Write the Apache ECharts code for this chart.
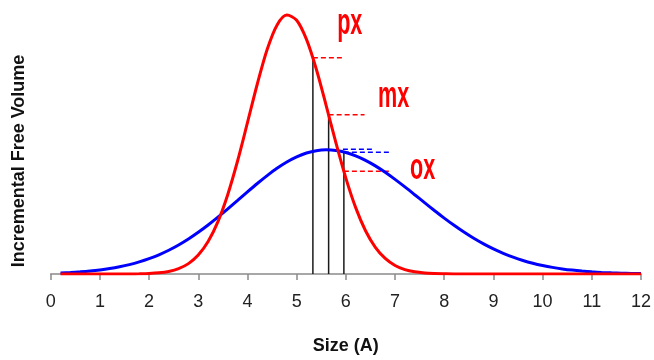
<!DOCTYPE html>
<html>
<head>
<meta charset="utf-8">
<script src="https://cdn.jsdelivr.net/npm/echarts@6/dist/echarts.min.js"></script>
<style>
  html, body { margin: 0; padding: 0; background: #ffffff; }
  #chart { width: 654px; height: 360px; }
</style>
</head>
<body>
<div id="chart"></div>
<script>
// Pore size axis (Å) and the two free-volume distributions sampled along it
const sizes = [
  0.2, 0.4, 0.6, 0.8, 1.0, 1.2, 1.4, 1.6, 1.8, 2.0,
  2.2, 2.4, 2.6, 2.8, 3.0, 3.2, 3.4, 3.6, 3.8, 4.0,
  4.2, 4.4, 4.6, 4.8, 5.0, 5.2, 5.4, 5.6, 5.8, 6.0,
  6.2, 6.4, 6.6, 6.8, 7.0, 7.2, 7.4, 7.6, 7.8, 8.0,
  8.2, 8.4, 8.6, 8.8, 9.0, 9.2, 9.4, 9.6, 9.8, 10.0,
  10.2, 10.4, 10.6, 10.8, 11.0, 11.2, 11.4, 11.6, 11.8, 12.0
];
const narrowVolume = [
  0, 0, 0, 0, 0, 0, 0, 0.0002, 0.0008, 0.0019,
  0.0045, 0.0099, 0.0206, 0.040, 0.073, 0.125, 0.202, 0.307, 0.437, 0.584,
  0.733, 0.866, 0.960, 0.999, 0.979, 0.905, 0.790, 0.650, 0.505, 0.370,
  0.256, 0.167, 0.103, 0.060, 0.033, 0.017, 0.0083, 0.0038, 0.0017, 0.0007,
  0, 0, 0, 0, 0, 0, 0, 0, 0, 0,
  0, 0, 0, 0, 0, 0, 0, 0, 0, 0
];
const broadVolume = [
  0.0043, 0.0061, 0.0085, 0.0116, 0.0157, 0.0210, 0.0278, 0.0362, 0.0466, 0.0591,
  0.0741, 0.0917, 0.1120, 0.1351, 0.1609, 0.1890, 0.2193, 0.2511, 0.2839, 0.3169,
  0.3491, 0.3797, 0.4076, 0.4320, 0.4519, 0.4668, 0.4759, 0.4790, 0.4764, 0.4685,
  0.4557, 0.4384, 0.4171, 0.3924, 0.3651, 0.3360, 0.3058, 0.2752, 0.2450, 0.2157,
  0.1878, 0.1617, 0.1377, 0.1160, 0.0966, 0.0796, 0.0648, 0.0522, 0.0416, 0.0328,
  0.0255, 0.0197, 0.0150, 0.0113, 0.0084, 0.0062, 0.0045, 0.0033, 0.0023, 0.0016
];
const xTickLabels = ['0','1','2','3','4','5','6','7','8','9','10','11','12'];

// Marked sizes: drop lines, red read-off levels and the px / mx / ox labels
const markerNames = ['px', 'mx', 'ox'];
const markerSize = [5.33, 5.65, 5.96];
const markerLevel = [0.834, 0.614, 0.396];
const markerLineTop = [0.834, 0.614, 0.470];
const markerLevelEnd = [5.94, 6.38, 6.89];
const markerLabelSize = [6.08, 6.97, 7.56];
const markerLabelLevel = [0.966, 0.681, 0.403];
// Blue read-off levels near the broad peak
const broadLevel = [0.470, 0.481];
const broadLevelStart = [5.96, 5.94];
const broadLevelEnd = [6.89, 6.59];

const FONT = 'Liberation Sans, Arial, sans-serif';
const RED = '#ff0000';
const BLUE = '#0000ff';

const chart = echarts.init(document.getElementById('chart'), null, { renderer: 'canvas' });

const pairs = (xs, ys) => xs.map((x, i) => [x, ys[i]]);

const series = [];

// Drop lines from the axis up to each marked level
markerSize.forEach((x, i) => {
  series.push({
    type: 'line', silent: true, symbol: 'none', z: 1,
    data: [[x, 0], [x, markerLineTop[i]]],
    lineStyle: { color: '#1a1a1a', width: 1.5 }
  });
});
// Red dashed read-off levels
markerSize.forEach((x, i) => {
  series.push({
    type: 'line', silent: true, symbol: 'none', z: 1,
    data: [[x, markerLevel[i]], [markerLevelEnd[i], markerLevel[i]]],
    lineStyle: { color: RED, width: 1.5, type: [5, 3] }
  });
});
// Blue dashed read-off levels
broadLevel.forEach((y, i) => {
  series.push({
    type: 'line', silent: true, symbol: 'none', z: 1,
    data: [[broadLevelStart[i], y], [broadLevelEnd[i], y]],
    lineStyle: { color: BLUE, width: 1.5, type: [5, 3] }
  });
});

series.push({
  name: 'broad', type: 'line', symbol: 'none', smooth: 0.3, z: 3,
  data: pairs(sizes, broadVolume),
  lineStyle: { color: BLUE, width: 3 }
});
series.push({
  name: 'narrow', type: 'line', symbol: 'none', smooth: 0.3, z: 4,
  data: pairs(sizes, narrowVolume),
  lineStyle: { color: RED, width: 3 }
});

chart.setOption({
  animation: false,
  backgroundColor: '#ffffff',
  grid: { left: 50.7, right: 12.3, top: 1.85, bottom: 82 },
  xAxis: {
    type: 'value', min: 0, max: 12, interval: 1,
    name: 'Size (A)', nameLocation: 'middle', nameGap: 63,
    nameTextStyle: { fontFamily: FONT, fontSize: 18, fontWeight: 'bold', color: '#111111' },
    axisLine: { show: true, onZero: false, lineStyle: { color: '#8a8a8a', width: 1.5 } },
    axisTick: { show: true, length: 6, lineStyle: { color: '#8a8a8a', width: 1.5 } },
    axisLabel: {
      margin: 19, fontFamily: FONT, fontSize: 18, color: '#222222',
      formatter: v => xTickLabels[Math.round(v)]
    },
    splitLine: { show: false }
  },
  yAxis: {
    type: 'value', min: 0, max: 1.05, show: false
  },
  series: series
});

// Axis title and the condensed px / mx / ox labels
const graphics = [{
  type: 'text', x: 19, y: 161, rotation: Math.PI / 2,
  style: {
    text: 'Incremental Free Volume', fontFamily: FONT, fontSize: 18, fontWeight: 'bold',
    fill: '#111111', align: 'center', verticalAlign: 'middle'
  }
}];
markerNames.forEach((name, i) => {
  const p = chart.convertToPixel({ gridIndex: 0 }, [markerLabelSize[i], markerLabelLevel[i]]);
  graphics.push({
    type: 'text', x: p[0], y: p[1], scaleX: 0.6,
    style: {
      text: name, fontFamily: FONT, fontSize: 36, fontWeight: 'bold', fill: RED,
      align: 'center', verticalAlign: 'middle'
    }
  });
});
chart.setOption({ graphic: graphics });
</script>
</body>
</html>
